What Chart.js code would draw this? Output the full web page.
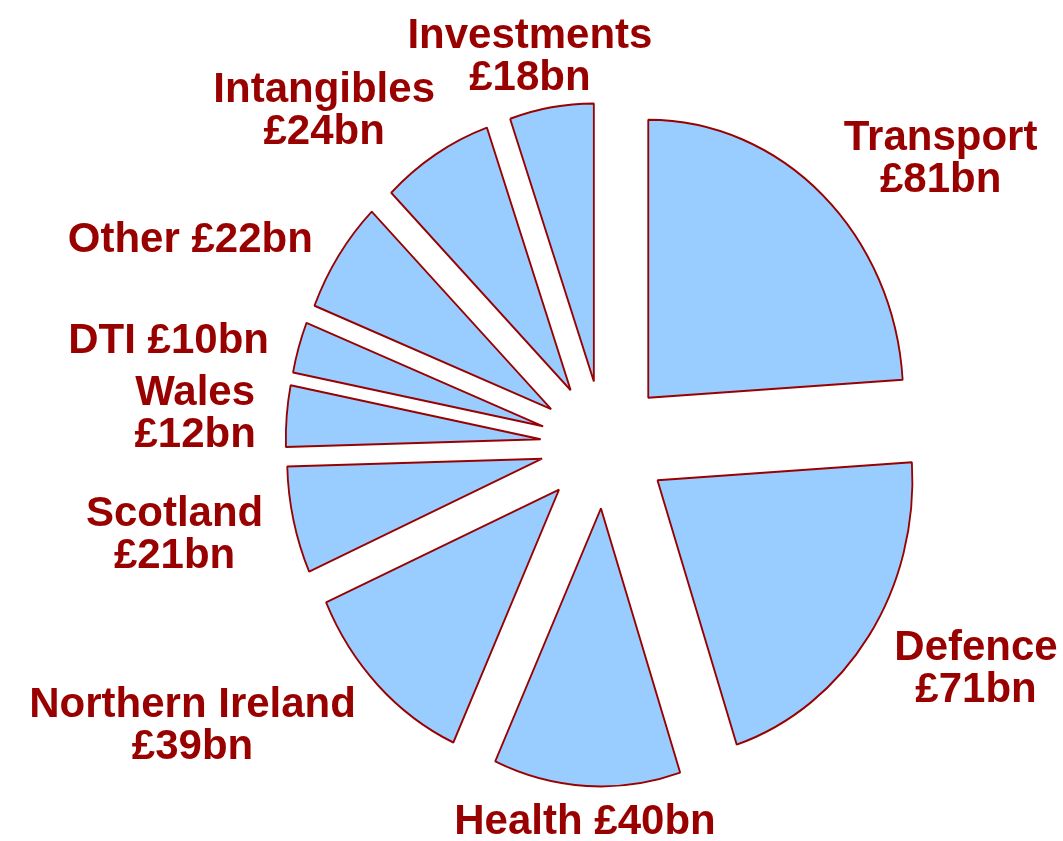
<!DOCTYPE html>
<html>
<head>
<meta charset="utf-8">
<script src="https://cdn.jsdelivr.net/npm/chart.js@4"></script>
<style>
  html, body { margin: 0; padding: 0; background: #ffffff; }
  #wrap { width: 1063px; height: 841px; position: relative; }
</style>
</head>
<body>
<div id="wrap"><canvas id="c"></canvas></div>
<script>
// ---- data ----
const categories = ['Transport', 'Defence', 'Health', 'Northern Ireland', 'Scotland',
                    'Wales', 'DTI', 'Other', 'Intangibles', 'Investments'];
const values = [81, 71, 40, 39, 21, 12, 10, 22, 24, 18];
const wrapLabel = [true, true, false, true, true, true, false, false, true, true];

// ---- styles ----
const FILL = '#99CCFF';
const DARK = '#990000';
const FONT_SIZE = 42;
const LINE_H = 42;
const CAP_H = 30;
const EXPLODE = 64;        // every slice pulled out from the centre by this many px
const SQUASH_X = 0.917;    // the reference pie is slightly narrower than tall
const LABEL_GAP_X = 31;
const LABEL_GAP_Y = 18;

// draw each arc element translated outwards along its mid-angle (true explode)
const explodePlugin = {
  id: 'explode',
  beforeDatasetDraw(chart, args) {
    const ctx = chart.ctx;
    args.meta.data.forEach(arc => {
      const mid = (arc.startAngle + arc.endAngle) / 2;
      ctx.save();
      ctx.translate(arc.x + Math.cos(mid) * EXPLODE, arc.y + Math.sin(mid) * EXPLODE);
      ctx.scale(SQUASH_X, 1);
      ctx.translate(-arc.x, -arc.y);
      arc.draw(ctx);
      ctx.restore();
    });
    return false;
  }
};

const labelPlugin = {
  id: 'outsideLabels',
  afterDatasetsDraw(chart) {
    const ctx = chart.ctx;
    const meta = chart.getDatasetMeta(0);
    ctx.save();
    ctx.font = 'bold ' + FONT_SIZE + 'px "Liberation Sans", Arial, sans-serif';
    ctx.fillStyle = DARK;
    ctx.textAlign = 'center';
    ctx.textBaseline = 'alphabetic';
    meta.data.forEach((arc, i) => {
      const mid = (arc.startAngle + arc.endAngle) / 2;
      const cos = Math.cos(mid), sin = Math.sin(mid);
      const rx = arc.outerRadius * SQUASH_X + EXPLODE + LABEL_GAP_X;
      const ry = arc.outerRadius + EXPLODE + LABEL_GAP_Y;
      const ax = arc.x + cos * rx;
      const ay = arc.y + sin * ry;
      const money = '£' + values[i] + 'bn';
      const lines = wrapLabel[i] ? [categories[i], money] : [categories[i] + ' ' + money];
      const w = Math.max(...lines.map(t => ctx.measureText(t).width));
      const h = CAP_H + (lines.length - 1) * LINE_H;
      const k = Math.sign(cos) * Math.max(0, Math.min(1, 2 * Math.abs(cos) - 0.2));
      const bx = ax + k * w / 2;
      const by = ay + sin * h / 2;
      const top = by - h / 2;
      lines.forEach((t, j) => {
        ctx.fillText(t, bx, top + CAP_H + j * LINE_H);
      });
    });
    ctx.restore();
  }
};

new Chart(document.getElementById('c'), {
  type: 'pie',
  data: {
    labels: categories,
    datasets: [{
      data: values,
      backgroundColor: FILL,
      borderColor: DARK,
      borderWidth: 2,
      clip: false
    }]
  },
  options: {
    responsive: true,
    maintainAspectRatio: false,
    animation: false,
    radius: 278,
    layout: { padding: { left: 146, right: 0, top: 48, bottom: 0 } },
    plugins: {
      legend: { display: false },
      tooltip: { enabled: false }
    }
  },
  plugins: [explodePlugin, labelPlugin]
});
</script>
</body>
</html>
